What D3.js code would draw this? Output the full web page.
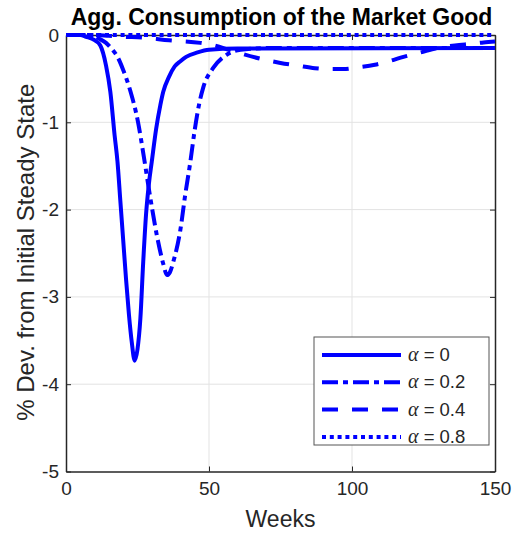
<!DOCTYPE html>
<html>
<head>
<meta charset="utf-8">
<script src="https://cdn.jsdelivr.net/npm/d3@7"></script>
<style>
  html, body { margin: 0; padding: 0; background: #fff; }
  svg { display: block; font-family: "Liberation Sans", Arial, sans-serif; }
</style>
</head>
<body>
<svg id="chart" width="517" height="536"></svg>
<script>
// Response of aggregate market-good consumption, % deviation, by weeks
const weeksA0 = [0, 5, 7, 10, 12, 14, 15.5, 17, 18, 19, 20, 21, 22, 23, 24, 25, 26, 27, 28, 29, 30, 31.5, 33, 34, 36, 38, 40, 42, 46, 50, 60, 150];
const valsA0  = [0, 0, -0.02, -0.06, -0.12, -0.35, -0.65, -1.15, -1.45, -1.9, -2.35, -2.8, -3.2, -3.52, -3.73, -3.6, -3.25, -2.6, -2.05, -1.7, -1.45, -1.08, -0.8, -0.65, -0.48, -0.36, -0.3, -0.25, -0.2, -0.17, -0.155, -0.15];

const weeksA02 = [0, 8, 10, 12, 14, 16, 18, 20, 22.4, 25.2, 27, 29.4, 31.8, 34, 35.3, 36.3, 37.5, 40, 41.6, 43.4, 45, 46.5, 48, 51.4, 56, 61, 70, 150];
const valsA02  = [0, 0, -0.02, -0.05, -0.09, -0.16, -0.25, -0.4, -0.63, -1.0, -1.35, -1.85, -2.3, -2.62, -2.75, -2.72, -2.6, -2.23, -1.85, -1.47, -1.09, -0.8, -0.6, -0.38, -0.23, -0.17, -0.15, -0.15];

const weeksA04 = [0, 10, 15, 20, 27, 36, 47, 52, 57, 62, 69, 75, 81, 87, 92, 97, 102, 108, 113, 118, 124, 130, 136, 142, 146, 150];
const valsA04  = [0, 0, -0.01, -0.02, -0.03, -0.06, -0.09, -0.12, -0.17, -0.22, -0.28, -0.32, -0.35, -0.38, -0.39, -0.39, -0.37, -0.34, -0.3, -0.25, -0.2, -0.15, -0.12, -0.1, -0.085, -0.075];

const weeksA08 = [0, 150];
const valsA08  = [0, 0];

const alphaLabels = ["0", "0.2", "0.4", "0.8"];
const xTicks = [0, 50, 100, 150];
const yTicks = [0, -1, -2, -3, -4, -5];

const series = [
  { weeks: weeksA0,  vals: valsA0,  label: alphaLabels[0], dash: null },
  { weeks: weeksA02, vals: valsA02, label: alphaLabels[1], dash: "16,5,5,5" },
  { weeks: weeksA04, vals: valsA04, label: alphaLabels[2], dash: "16,14" },
  { weeks: weeksA08, vals: valsA08, label: alphaLabels[3], dash: "4,3.8" }
];

const svg = d3.select("#chart");
const L = 66, R = 495, T = 35, B = 471.5;
const axisColor = "#262626";
const blue = "#0000ff";

const x = d3.scaleLinear().domain([0, 150]).range([L, R]);
const y = d3.scaleLinear().domain([-5, 0]).range([B, T]);

// grid
const grid = svg.append("g");
grid.selectAll(".gx").data(xTicks.slice(1, -1)).enter().append("line")
  .attr("x1", d => x(d)).attr("x2", d => x(d)).attr("y1", T).attr("y2", B)
  .attr("stroke", "#e3e3e3").attr("stroke-width", 1);
grid.selectAll(".gy").data(yTicks.slice(1, -1)).enter().append("line")
  .attr("x1", L).attr("x2", R).attr("y1", d => y(d)).attr("y2", d => y(d))
  .attr("stroke", "#e3e3e3").attr("stroke-width", 1);

// axes with inward ticks on all four sides
function styleAxis(g) {
  g.selectAll("path").attr("stroke", axisColor).attr("stroke-width", 1.5);
  g.selectAll(".tick line").attr("stroke", axisColor).attr("stroke-width", 1);
  g.selectAll("text").attr("fill", axisColor).attr("font-size", 19)
    .attr("font-family", "Liberation Sans, Arial, sans-serif");
}
const xAxis = svg.append("g").attr("transform", `translate(0,${B})`)
  .call(d3.axisBottom(x).tickValues(xTicks).tickSize(-5).tickSizeOuter(0).tickPadding(10));
styleAxis(xAxis);
const xTop = svg.append("g").attr("transform", `translate(0,${T})`)
  .call(d3.axisTop(x).tickValues(xTicks).tickSize(-5).tickSizeOuter(0).tickFormat(""));
styleAxis(xTop);
const yAxis = svg.append("g").attr("transform", `translate(${L},0)`)
  .call(d3.axisLeft(y).tickValues(yTicks).tickSize(-5).tickSizeOuter(0).tickPadding(7).tickFormat(d3.format("d")));
styleAxis(yAxis);
yAxis.selectAll("text").text(d => d === 0 ? "0" : "-" + Math.abs(d));
const yRight = svg.append("g").attr("transform", `translate(${R},0)`)
  .call(d3.axisRight(y).tickValues(yTicks).tickSize(-5).tickSizeOuter(0).tickFormat(""));
styleAxis(yRight);

// curves
const line = d3.line().x(d => x(d[0])).y(d => y(d[1])).curve(d3.curveMonotoneX);
series.forEach(s => {
  const pts = s.weeks.map((w, i) => [w, s.vals[i]]);
  svg.append("path").datum(pts)
    .attr("d", line)
    .attr("fill", "none").attr("stroke", blue).attr("stroke-width", 4)
    .attr("stroke-dasharray", s.dash)
    .attr("stroke-linejoin", "round");
});

// title and axis labels
svg.append("text").attr("x", (L + R) / 2 + 1).attr("y", 25)
  .attr("text-anchor", "middle").attr("font-weight", "bold").attr("font-size", 23)
  .attr("fill", "#000").text("Agg. Consumption of the Market Good");
svg.append("text").attr("x", (L + R) / 2).attr("y", 527)
  .attr("text-anchor", "middle").attr("font-size", 23).attr("fill", axisColor).text("Weeks");
svg.append("text").attr("transform", `translate(34,${(T + B) / 2 - 1}) rotate(-90)`)
  .attr("text-anchor", "middle").attr("font-size", 24).attr("fill", axisColor)
  .text("% Dev. from Initial Steady State");

// legend
const lg = svg.append("g").attr("transform", "translate(314,337)");
lg.append("rect").attr("x", 0).attr("y", 0).attr("width", 175).attr("height", 108)
  .attr("fill", "#fff").attr("stroke", "#555").attr("stroke-width", 1);
series.forEach((s, i) => {
  const cy = 18 + i * 27.3;
  lg.append("line").attr("x1", 8).attr("x2", 87).attr("y1", cy).attr("y2", cy)
    .attr("stroke", blue).attr("stroke-width", 4).attr("stroke-dasharray", s.dash);
  const t = lg.append("text").attr("x", 94).attr("y", cy + 6).attr("font-size", 18.5).attr("fill", axisColor);
  t.append("tspan").attr("font-family", "Liberation Serif, Times New Roman, serif")
    .attr("font-style", "italic").attr("font-size", 20).text("α");
  t.append("tspan").text(" = " + s.label);
});
</script>
</body>
</html>
